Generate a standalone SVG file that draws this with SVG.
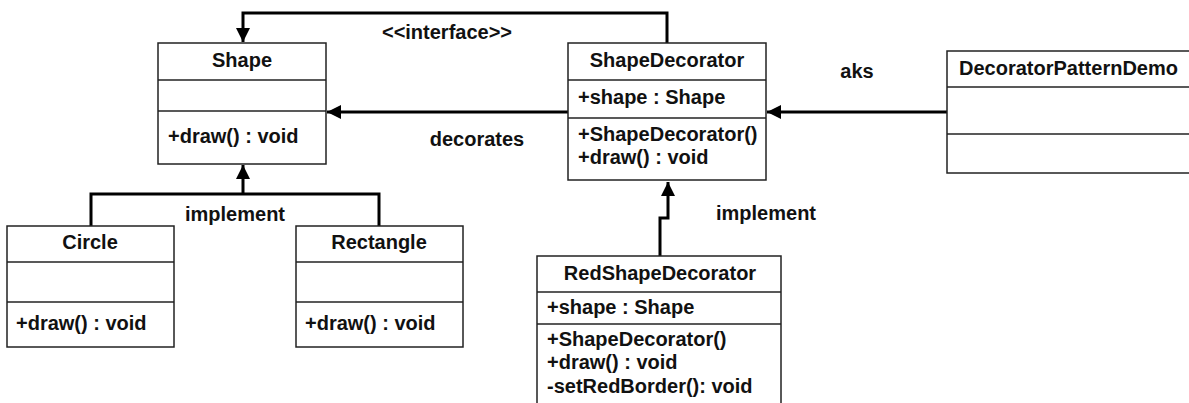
<svg xmlns="http://www.w3.org/2000/svg" width="1189" height="403" viewBox="0 0 1189 403">
<defs>
<style>
.box{fill:#fff;stroke:#222;stroke-width:1.5}
.div{stroke:#222;stroke-width:1.5}
.t{font-family:"Liberation Sans",Arial,sans-serif;font-weight:bold;font-size:20px;fill:#111}
.c{text-anchor:middle}
.conn{fill:none;stroke:#000;stroke-width:3}
</style>
<marker id="arr" markerUnits="userSpaceOnUse" markerWidth="14" markerHeight="14" refX="12" refY="6" orient="auto" viewBox="0 0 12 12">
<path d="M0,0 L12,6 L0,12 z" fill="#000"/>
</marker>
</defs>
<rect width="1189" height="403" fill="#fff"/>
<g id="connectors">
<path class="conn" d="M667,43 V13 H243 V42" marker-end="url(#arr)"/>
<path class="conn" d="M568,112 H327" marker-end="url(#arr)"/>
<path class="conn" d="M947,112 H767" marker-end="url(#arr)"/>
<path class="conn" d="M91,226 V194 H379 V226 M243,194 V165" marker-end="url(#arr)"/>
<path class="conn" d="M660,256 V218 H668 V182" marker-end="url(#arr)"/>
<text class="t c" x="447" y="39">&lt;&lt;interface&gt;&gt;</text>
<text class="t c" x="477" y="146">decorates</text>
<text class="t c" x="857" y="78">aks</text>
<text class="t c" x="235" y="221">implement</text>
<text class="t c" x="766" y="220">implement</text>
</g>
<g id="Shape">
<rect class="box" x="158" y="43" width="168" height="121"/>
<line class="div" x1="158" y1="80" x2="326" y2="80"/>
<line class="div" x1="158" y1="111" x2="326" y2="111"/>
<text class="t c" x="242" y="67">Shape</text>
<text class="t" x="168" y="143">+draw() : void</text>
</g>
<g id="ShapeDecorator">
<rect class="box" x="568" y="43" width="198" height="137"/>
<line class="div" x1="568" y1="80" x2="766" y2="80"/>
<line class="div" x1="568" y1="118" x2="766" y2="118"/>
<text class="t c" x="667" y="67">ShapeDecorator</text>
<text class="t" x="578" y="104">+shape : Shape</text>
<text class="t" x="578" y="141">+ShapeDecorator()</text>
<text class="t" x="578" y="164">+draw() : void</text>
</g>
<g id="DecoratorPatternDemo">
<rect class="box" x="947" y="51" width="260" height="122"/>
<line class="div" x1="947" y1="87" x2="1207" y2="87"/>
<line class="div" x1="947" y1="134" x2="1207" y2="134"/>
<text class="t" x="959" y="75">DecoratorPatternDemo</text>
</g>
<g id="Circle">
<rect class="box" x="7" y="226" width="167" height="121"/>
<line class="div" x1="7" y1="262" x2="174" y2="262"/>
<line class="div" x1="7" y1="302" x2="174" y2="302"/>
<text class="t c" x="90" y="249">Circle</text>
<text class="t" x="16" y="330">+draw() : void</text>
</g>
<g id="Rectangle">
<rect class="box" x="296" y="226" width="167" height="121"/>
<line class="div" x1="296" y1="262" x2="463" y2="262"/>
<line class="div" x1="296" y1="302" x2="463" y2="302"/>
<text class="t c" x="379" y="249">Rectangle</text>
<text class="t" x="305" y="330">+draw() : void</text>
</g>
<g id="RedShapeDecorator">
<rect class="box" x="537" y="256" width="244" height="160"/>
<line class="div" x1="537" y1="292" x2="781" y2="292"/>
<line class="div" x1="537" y1="324" x2="781" y2="324"/>
<text class="t c" x="660" y="280">RedShapeDecorator</text>
<text class="t" x="547" y="314">+shape : Shape</text>
<text class="t" x="547" y="346">+ShapeDecorator()</text>
<text class="t" x="547" y="369">+draw() : void</text>
<text class="t" x="547" y="393">-setRedBorder(): void</text>
</g>
</svg>
